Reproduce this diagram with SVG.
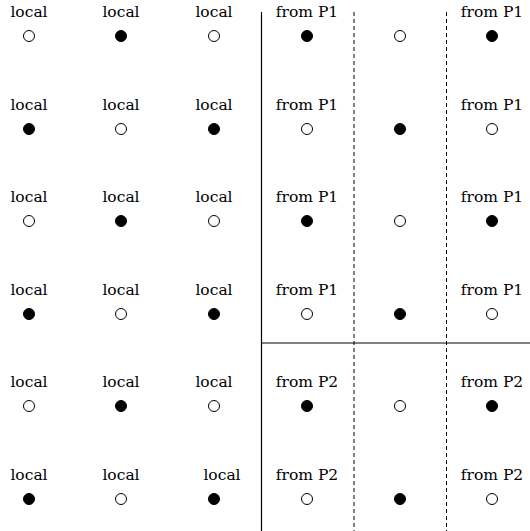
<svg xmlns="http://www.w3.org/2000/svg" width="530" height="531" viewBox="0 0 530 531">
<style>
text{font-family:'DejaVu Serif',serif;font-size:15.5px;fill:#000;text-anchor:middle}
.o{fill:#fff;stroke:#000;stroke-width:1}
.f{fill:#000;stroke:#000;stroke-width:1}
.s{stroke:#000;stroke-width:1.2;fill:none}
.d{stroke:#000;stroke-width:1;fill:none;stroke-dasharray:4,3}
</style>
<rect width="530" height="531" fill="#fff"/>
<g id="connectors">
<line class="s" x1="261.5" y1="12" x2="261.5" y2="531"/>
<line class="s" x1="261.5" y1="343" x2="530" y2="343"/>
<line class="d" x1="354" y1="12" x2="354" y2="531"/>
<line class="d" x1="446.5" y1="12" x2="446.5" y2="531"/>
</g>
<g id="r0">
<g id="n00"><text x="29" y="17">local</text><circle class="o" cx="29" cy="36" r="5.5"/></g>
<g id="n01"><text x="121" y="17">local</text><circle class="f" cx="121" cy="36" r="5.5"/></g>
<g id="n02"><text x="214" y="17">local</text><circle class="o" cx="214" cy="36" r="5.5"/></g>
<g id="n03"><text x="307" y="17">from P1</text><circle class="f" cx="307" cy="36" r="5.5"/></g>
<g id="n04"><circle class="o" cx="400" cy="36" r="5.5"/></g>
<g id="n05"><text x="492" y="17">from P1</text><circle class="f" cx="492" cy="36" r="5.5"/></g>
</g>
<g id="r1">
<g id="n10"><text x="29" y="110">local</text><circle class="f" cx="29" cy="129" r="5.5"/></g>
<g id="n11"><text x="121" y="110">local</text><circle class="o" cx="121" cy="129" r="5.5"/></g>
<g id="n12"><text x="214" y="110">local</text><circle class="f" cx="214" cy="129" r="5.5"/></g>
<g id="n13"><text x="307" y="110">from P1</text><circle class="o" cx="307" cy="129" r="5.5"/></g>
<g id="n14"><circle class="f" cx="400" cy="129" r="5.5"/></g>
<g id="n15"><text x="492" y="110">from P1</text><circle class="o" cx="492" cy="129" r="5.5"/></g>
</g>
<g id="r2">
<g id="n20"><text x="29" y="202">local</text><circle class="o" cx="29" cy="221" r="5.5"/></g>
<g id="n21"><text x="121" y="202">local</text><circle class="f" cx="121" cy="221" r="5.5"/></g>
<g id="n22"><text x="214" y="202">local</text><circle class="o" cx="214" cy="221" r="5.5"/></g>
<g id="n23"><text x="307" y="202">from P1</text><circle class="f" cx="307" cy="221" r="5.5"/></g>
<g id="n24"><circle class="o" cx="400" cy="221" r="5.5"/></g>
<g id="n25"><text x="492" y="202">from P1</text><circle class="f" cx="492" cy="221" r="5.5"/></g>
</g>
<g id="r3">
<g id="n30"><text x="29" y="295">local</text><circle class="f" cx="29" cy="314" r="5.5"/></g>
<g id="n31"><text x="121" y="295">local</text><circle class="o" cx="121" cy="314" r="5.5"/></g>
<g id="n32"><text x="214" y="295">local</text><circle class="f" cx="214" cy="314" r="5.5"/></g>
<g id="n33"><text x="307" y="295">from P1</text><circle class="o" cx="307" cy="314" r="5.5"/></g>
<g id="n34"><circle class="f" cx="400" cy="314" r="5.5"/></g>
<g id="n35"><text x="492" y="295">from P1</text><circle class="o" cx="492" cy="314" r="5.5"/></g>
</g>
<g id="r4">
<g id="n40"><text x="29" y="387">local</text><circle class="o" cx="29" cy="406" r="5.5"/></g>
<g id="n41"><text x="121" y="387">local</text><circle class="f" cx="121" cy="406" r="5.5"/></g>
<g id="n42"><text x="214" y="387">local</text><circle class="o" cx="214" cy="406" r="5.5"/></g>
<g id="n43"><text x="307" y="387">from P2</text><circle class="f" cx="307" cy="406" r="5.5"/></g>
<g id="n44"><circle class="o" cx="400" cy="406" r="5.5"/></g>
<g id="n45"><text x="492" y="387">from P2</text><circle class="f" cx="492" cy="406" r="5.5"/></g>
</g>
<g id="r5">
<g id="n50"><text x="29" y="480">local</text><circle class="f" cx="29" cy="499" r="5.5"/></g>
<g id="n51"><text x="121" y="480">local</text><circle class="o" cx="121" cy="499" r="5.5"/></g>
<g id="n52"><text x="222" y="480">local</text><circle class="f" cx="214" cy="499" r="5.5"/></g>
<g id="n53"><text x="307" y="480">from P2</text><circle class="o" cx="307" cy="499" r="5.5"/></g>
<g id="n54"><circle class="f" cx="400" cy="499" r="5.5"/></g>
<g id="n55"><text x="492" y="480">from P2</text><circle class="o" cx="492" cy="499" r="5.5"/></g>
</g>
</svg>
